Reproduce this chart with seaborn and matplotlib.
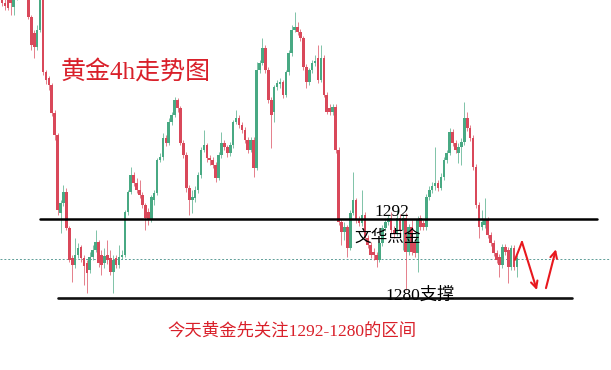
import matplotlib
matplotlib.use("Agg")
import matplotlib.pyplot as plt
import seaborn as sns
import numpy as np
import pandas as pd

# ---- data (gold 4h candles, price units) ----
opens = [1326.1,1324.8,1325.6,1325.3,1324.2,1325.6,1327.6,1329.1,1328.3,1326.1,
         1322.7,1320.3,1318.2,1320.7,1326.1,1314.4,1313.4,1312.4,1308.1,1304.8,
         1292.9,1294.4,1296.1,1290.6,1286.1,1285.0,1286.5,1287.8,1286.1,1285.3,
         1284.3,1286.2,1287.3,1288.5,1286.5,1285.3,1286.5,1286.1,1284.0,1286.1,
         1285.0,1286.2,1286.5,1293.1,1296.1,1298.7,1297.5,1296.4,1295.7,1294.1,
         1293.1,1291.9,1294.9,1296.0,1301.0,1301.4,1304.3,1303.6,1306.8,1307.8,
         1310.1,1308.9,1303.6,1301.7,1296.7,1294.9,1295.2,1296.4,1298.7,1302.5,
         1303.3,1301.3,1301.0,1300.2,1298.2,1301.7,1303.6,1303.0,1302.0,1303.3,
         1306.8,1307.4,1306.3,1305.5,1304.0,1302.5,1304.0,1299.8,1314.7,1315.7,
         1318.0,1314.7,1310.1,1308.3,1312.1,1312.5,1312.8,1310.9,1314.4,1317.2,
         1320.7,1321.2,1320.4,1319.5,1315.1,1312.8,1314.7,1315.7,1316.5,1313.1,
         1316.5,1310.9,1308.9,1308.3,1309.0,1302.5,1291.6,1290.0,1290.8,1287.6,
         1292.9,1294.9,1291.9,1291.4,1292.6,1289.1,1288.1,1287.0,1286.5,1285.8,
         1288.4,1290.6,1291.6,1292.2,1290.3,1289.9,1292.2,1290.3,1292.2,1287.0,
         1290.8,1288.4,1286.8,1292.2,1291.4,1290.8,1295.4,1296.4,1297.0,1297.5,
         1296.7,1298.4,1301.0,1302.0,1305.2,1303.6,1302.0,1303.0,1303.7,1307.4,
         1305.8,1304.3,1299.9,1294.1,1290.8,1291.1,1291.9,1289.6,1288.4,1286.8,
         1286.2,1285.0,1287.8,1287.3,1284.7,1287.6,1284.7]
closes = [1324.8,1324.4,1324.1,1324.8,1325.6,1327.6,1329.1,1328.3,1326.1,1322.7,
          1318.5,1318.2,1320.7,1326.1,1314.4,1313.1,1312.4,1308.1,1304.8,1293.4,
          1294.4,1296.1,1290.6,1285.8,1285.0,1286.5,1287.6,1286.1,1284.9,1283.8,
          1286.2,1287.3,1288.5,1285.3,1285.0,1286.4,1285.8,1284.0,1285.8,1285.0,
          1286.2,1286.5,1293.1,1296.1,1298.7,1297.5,1296.4,1295.7,1294.1,1292.2,
          1291.9,1295.4,1296.0,1301.0,1301.4,1304.3,1303.6,1306.8,1307.8,1310.1,
          1308.9,1303.6,1301.7,1296.7,1294.9,1295.4,1296.4,1298.7,1302.5,1303.3,
          1301.3,1301.0,1300.2,1298.2,1301.7,1303.6,1303.0,1302.0,1303.3,1306.8,
          1307.4,1306.3,1305.5,1304.0,1302.5,1304.0,1299.8,1314.7,1315.7,1318.0,
          1314.7,1310.1,1307.8,1312.1,1312.7,1312.8,1310.9,1314.4,1317.2,1320.7,
          1321.2,1320.4,1319.5,1315.1,1312.8,1314.7,1315.7,1315.9,1313.1,1316.5,
          1310.9,1308.3,1308.3,1309.0,1302.5,1291.6,1290.0,1290.8,1287.6,1292.9,
          1294.9,1291.9,1291.4,1292.6,1289.1,1288.1,1286.5,1286.5,1285.8,1288.4,
          1290.6,1291.6,1292.2,1290.3,1289.9,1292.2,1290.3,1292.2,1287.0,1290.8,
          1287.0,1286.8,1291.9,1290.8,1290.8,1295.4,1296.4,1297.0,1297.5,1296.7,
          1298.4,1301.0,1302.0,1305.2,1303.6,1302.5,1303.0,1303.7,1307.4,1305.8,
          1304.3,1299.9,1294.1,1290.8,1291.6,1291.9,1289.6,1288.4,1286.8,1285.8,
          1285.0,1287.8,1287.0,1284.7,1287.6,1284.7,1286.1]
highs = [1326.8,1325.6,1326.2,1325.9,1326.5,1328.3,1329.6,1329.6,1329.1,1326.5,
         1323.0,1320.7,1321.5,1326.8,1326.5,1314.7,1313.7,1312.7,1308.6,1305.1,
         1294.9,1297.2,1296.7,1290.9,1286.5,1289.1,1288.4,1288.1,1286.5,1285.8,
         1287.0,1288.1,1290.3,1288.8,1287.3,1287.6,1288.8,1287.3,1286.5,1286.5,
         1288.1,1287.3,1293.4,1296.4,1299.9,1299.2,1298.2,1297.9,1296.1,1294.4,
         1293.7,1295.7,1296.4,1301.3,1302.0,1305.1,1304.8,1307.4,1308.3,1310.6,
         1310.4,1309.2,1304.0,1302.2,1297.2,1296.4,1297.0,1299.2,1303.0,1305.5,
         1303.6,1301.7,1301.4,1300.7,1302.2,1305.2,1304.0,1303.3,1303.7,1307.1,
         1308.6,1307.8,1306.8,1306.0,1304.5,1304.5,1304.5,1315.9,1316.2,1319.5,
         1318.5,1315.1,1310.6,1312.4,1313.1,1313.4,1313.1,1314.7,1317.7,1321.5,
         1323.5,1322.0,1320.9,1319.8,1315.6,1315.0,1316.2,1316.9,1318.5,1318.5,
         1316.9,1311.3,1309.5,1309.5,1309.5,1303.0,1292.0,1291.6,1291.1,1293.4,
         1299.2,1295.2,1292.5,1296.4,1293.1,1289.6,1288.5,1287.6,1287.0,1288.8,
         1291.1,1292.2,1292.6,1293.1,1290.9,1293.4,1292.8,1292.8,1292.9,1291.3,
         1291.9,1288.8,1292.5,1292.6,1291.9,1295.8,1297.0,1297.6,1303.0,1297.9,
         1299.0,1301.4,1302.5,1305.8,1305.7,1304.0,1303.6,1304.3,1309.8,1308.3,
         1306.3,1304.8,1300.4,1294.6,1293.4,1295.2,1292.3,1290.0,1288.8,1287.3,
         1286.7,1288.2,1288.2,1287.8,1288.1,1288.1,1286.5]
lows = [1324.4,1323.8,1323.8,1323.0,1323.0,1325.3,1327.3,1327.9,1325.6,1322.4,
        1317.7,1316.5,1317.7,1320.4,1313.9,1312.5,1311.6,1307.7,1304.0,1292.6,
        1289.9,1294.0,1290.3,1285.5,1282.4,1284.6,1286.1,1285.5,1282.0,1280.8,
        1283.8,1285.8,1287.0,1284.7,1283.5,1284.6,1285.2,1283.5,1280.8,1284.6,
        1284.6,1285.9,1286.2,1292.6,1295.8,1297.0,1296.0,1295.2,1293.7,1290.3,
        1291.1,1291.6,1294.1,1295.7,1300.7,1301.0,1303.1,1303.3,1306.3,1307.5,
        1308.3,1303.3,1301.3,1296.1,1292.6,1292.9,1294.6,1296.0,1298.2,1302.2,
        1300.7,1300.2,1299.8,1297.6,1297.9,1301.3,1302.5,1301.4,1301.6,1302.8,
        1306.5,1305.8,1305.1,1303.6,1302.0,1302.2,1298.4,1299.5,1314.2,1315.4,
        1314.2,1309.6,1302.8,1306.8,1311.6,1311.9,1310.4,1310.6,1313.9,1316.8,
        1320.4,1320.0,1319.1,1314.7,1311.9,1312.4,1314.2,1315.3,1312.7,1312.8,
        1310.6,1308.0,1307.8,1307.8,1302.0,1291.1,1288.1,1288.8,1286.2,1287.3,
        1292.6,1291.4,1290.9,1290.9,1288.7,1287.6,1286.1,1285.8,1284.7,1285.5,
        1287.9,1290.2,1291.1,1289.9,1289.1,1289.4,1289.9,1287.3,1281.2,1286.5,
        1286.5,1286.2,1284.0,1290.3,1290.3,1290.3,1294.9,1296.0,1296.4,1296.3,
        1296.4,1297.9,1300.5,1301.7,1303.1,1302.0,1300.5,1300.2,1303.3,1305.4,
        1303.9,1299.5,1293.7,1289.1,1290.3,1290.6,1289.1,1287.9,1286.4,1285.3,
        1283.2,1284.6,1286.5,1282.3,1284.3,1284.3,1283.2]

support_levels = [1292, 1280]
reference_price = 1285.9
arrow_down = [(175.3, 1285.8), (177.7, 1288.5), (182.8, 1281.2)]
arrow_up = [(185.9, 1281.5), (189.3, 1287.4)]

title_text = "黄金4h走势图"
note_text = "今天黄金先关注1292-1280的区间"

df = pd.DataFrame({"open": opens, "high": highs, "low": lows, "close": closes})
df["idx"] = np.arange(len(df))
df["up"] = df["close"] >= df["open"]

sns.set_theme(style="white")
plt.rcParams["font.family"] = ["Liberation Serif", "Noto Sans CJK SC", "DejaVu Sans"]

W, H = 611, 370
fig = plt.figure(figsize=(W / 100, H / 100), dpi=100)
ax = fig.add_axes([0, 0, 1, 1])
ax.set_axis_off()

RED = "#d9485a"
GREEN = "#48a983"
colors = np.where(df["up"], GREEN, RED)

ax.vlines(df["idx"], df["low"], df["high"], colors=colors, lw=0.7, alpha=0.7, zorder=2)
bottom = np.minimum(df["open"], df["close"])
height = np.maximum(np.abs(df["close"] - df["open"]), 0.3)
ax.bar(df["idx"], height, bottom=bottom, width=0.9, color=colors, linewidth=0, zorder=3)

px_per_unit = 515 / 176
x0 = -2 / px_per_unit
ax.set_xlim(x0, x0 + W / px_per_unit)
ax.set_ylim(1269.06, 1325.27)

ax.axhline(reference_price, color="#5f9e98", lw=0.7, ls=(0, (2, 2)), zorder=1)
ax.axhline(support_levels[0], xmin=40 / W, xmax=597 / W, color="black", lw=1.8, zorder=4)
ax.axhline(support_levels[1], xmin=58 / W, xmax=572 / W, color="#111111", lw=1.9, zorder=4)

ARED = "#e8181e"
pts = arrow_down
ax.plot([pts[0][0], pts[1][0]], [pts[0][1], pts[1][1]], color=ARED, lw=1.5, zorder=5)
ax.annotate("", xy=pts[2], xytext=pts[1],
            arrowprops=dict(arrowstyle="->", color=ARED, lw=1.5, mutation_scale=12,
                            shrinkA=0, shrinkB=0), zorder=5)
ax.annotate("", xy=arrow_up[1], xytext=arrow_up[0],
            arrowprops=dict(arrowstyle="->", color=ARED, lw=1.5, mutation_scale=12,
                            shrinkA=0, shrinkB=0), zorder=5)

def ftext(x, y, s, **kw):
    fig.text(x / W, 1 - y / H, s, va="center", ha="left", **kw)

ftext(61, 72, title_text, color="#d9202a", fontsize=18)
ftext(374, 212, str(support_levels[0]), color="black", fontsize=12.5)
ftext(354, 238, "文华点金", color="black", fontsize=12)
ftext(385, 296, f"{support_levels[1]}支撑", color="black", fontsize=12.5)
ftext(167, 331, note_text, color="#d9202a", fontsize=12.5)

fig.savefig("out.png", dpi=100)
